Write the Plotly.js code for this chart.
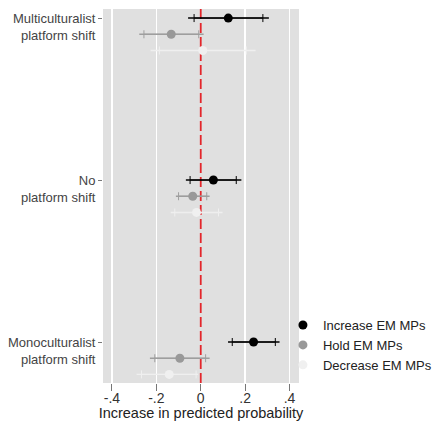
<!DOCTYPE html>
<html>
<head>
<meta charset="utf-8">
<script src="https://cdn.plot.ly/plotly-3.0.1.min.js"></script>
<style>html,body{margin:0;padding:0;background:#fff;}#chart{width:432px;height:421px;}</style>
</head>
<body>
<div id="chart"></div>
<script>
// Categories (top to bottom)
const categories = ["Multiculturalist<br>platform shift", "No<br>platform shift", "Monoculturalist<br>platform shift"];
const seriesNames = ["Increase EM MPs", "Hold EM MPs", "Decrease EM MPs"];

// Point estimates and confidence bounds per series (same order as categories)
const increaseEst  = [0.124, 0.057, 0.238];
const increaseLo95 = [-0.057, -0.067, 0.123];
const increaseHi95 = [0.307, 0.183, 0.355];
const increaseLo90 = [-0.030, -0.048, 0.142];
const increaseHi90 = [0.280, 0.160, 0.336];

const holdEst  = [-0.133, -0.036, -0.094];
const holdLo95 = [-0.277, -0.112, -0.229];
const holdHi95 = [0.013, 0.040, 0.040];
const holdLo90 = [-0.256, -0.100, -0.207];
const holdHi90 = [-0.009, 0.027, 0.022];

const decreaseEst  = [0.009, -0.019, -0.142];
const decreaseLo95 = [-0.226, -0.135, -0.289];
const decreaseHi95 = [0.247, 0.098, -0.012];
const decreaseLo90 = [-0.186, -0.117, -0.267];
const decreaseHi90 = [0.205, 0.080, -0.021];

const xTickVals = [-0.4, -0.2, 0, 0.2, 0.4];
const xTickText = ["-.4", "-.2", "0", ".2", ".4"];
const xGridVals = [-0.4, -0.2, 0.2, 0.4];

const series = [
  {name: seriesNames[0], est: increaseEst, lo95: increaseLo95, hi95: increaseHi95, lo90: increaseLo90, hi90: increaseHi90, color: "#000000", line: "#000000", lw: 1.6},
  {name: seriesNames[1], est: holdEst, lo95: holdLo95, hi95: holdHi95, lo90: holdLo90, hi90: holdHi90, color: "#999999", line: "#9e9e9e", lw: 1.4},
  {name: seriesNames[2], est: decreaseEst, lo95: decreaseLo95, hi95: decreaseHi95, lo90: decreaseLo90, hi90: decreaseHi90, color: "#f0f0f0", line: "#efefef", lw: 1.4}
];

const n = categories.length;
const catY = categories.map((c, i) => n - i);
const rowStep = 0.1;

const traces = [];
// interval lines (95%) and caps (90%)
series.forEach((s, k) => {
  const y = catY.map(v => v - k * rowStep);
  traces.push({
    type: "scatter", mode: "markers", x: s.est, y: y, showlegend: false, hoverinfo: "skip",
    marker: {size: 1, opacity: 0},
    error_x: {type: "data", symmetric: false,
      array: s.est.map((e, i) => s.hi95[i] - e),
      arrayminus: s.est.map((e, i) => e - s.lo95[i]),
      color: s.line, thickness: s.lw, width: 0}
  });
  traces.push({
    type: "scatter", mode: "markers", x: s.est, y: y, showlegend: false, hoverinfo: "skip",
    marker: {size: 1, opacity: 0},
    error_x: {type: "data", symmetric: false,
      array: s.est.map((e, i) => s.hi90[i] - e),
      arrayminus: s.est.map((e, i) => e - s.lo90[i]),
      color: s.line, thickness: 1, width: 4}
  });
});
// point markers (legend)
series.forEach((s, k) => {
  const y = catY.map(v => v - k * rowStep);
  traces.push({
    type: "scatter", mode: "markers", name: s.name, x: s.est, y: y,
    marker: {size: 9, color: s.color, line: {width: 0}}
  });
});

const layout = {
  width: 432, height: 421,
  margin: {l: 103, r: 132.5, t: 9, b: 38, pad: 0, autoexpand: false},
  paper_bgcolor: "#ffffff",
  plot_bgcolor: "#e0e0e0",
  font: {family: "Liberation Sans, Arial, sans-serif", color: "#333333", size: 13},
  showlegend: true,
  legend: {x: 0.918, xanchor: "left", y: 0.195, yanchor: "top", bgcolor: "rgba(0,0,0,0)",
           font: {size: 13, color: "#222222"}, tracegroupgap: 0},
  xaxis: {
    range: [-0.4404, 0.4427], tickvals: xTickVals, ticktext: xTickText,
    showgrid: false, zeroline: false,
    minor: {tickvals: xGridVals, showgrid: true, gridcolor: "#ffffff", gridwidth: 1.5, ticks: ""},
    ticks: "outside", ticklen: 7, tickcolor: "#777777", tickwidth: 1,
    tickfont: {size: 14, color: "#333333"}, showline: false, ticklabelstandoff: -5,
    title: {text: "Increase in predicted probability", font: {size: 14.5, color: "#222222"}, standoff: 4}
  },
  yaxis: {
    range: [0.747, 3.056], tickvals: catY, ticktext: categories,
    showgrid: false, zeroline: false, showline: false,
    ticks: "outside", ticklen: 4, tickcolor: "#777777", tickwidth: 1,
    tickfont: {size: 13, color: "#444444"}, ticklabelshift: 9
  },
  shapes: [{type: "line", xref: "x", yref: "paper", x0: 0, x1: 0, y0: 0, y1: 1, layer: "below",
            line: {color: "#e3262b", width: 1.8, dash: "10px,4px"}}]
};

Plotly.newPlot("chart", traces, layout, {displayModeBar: false, staticPlot: true});
</script>
</body>
</html>
